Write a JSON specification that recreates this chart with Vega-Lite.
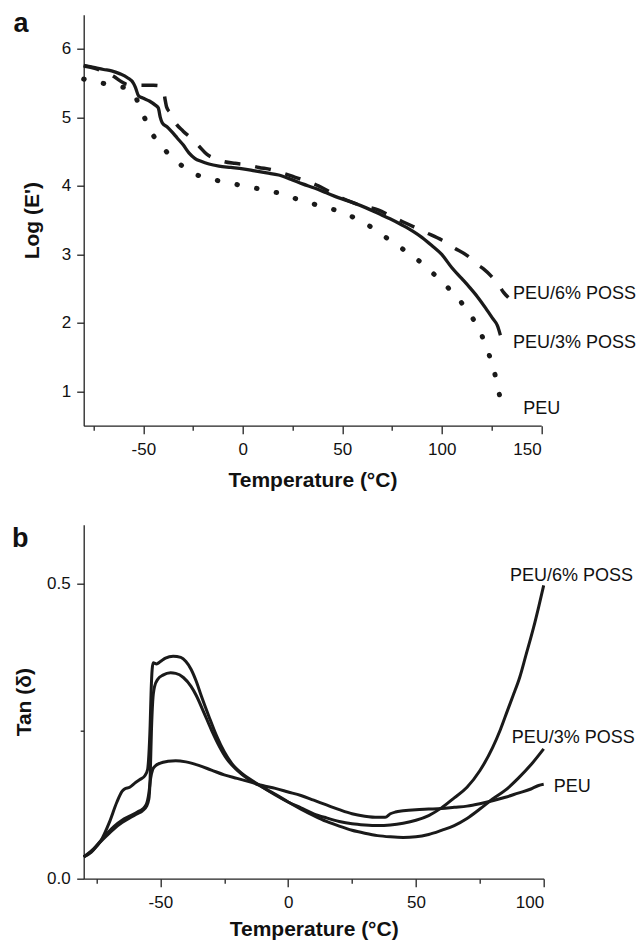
{
  "$schema": "https://vega.github.io/schema/vega-lite/v6.json",
  "background": "white",
  "autosize": {"type": "pad"},
  "padding": {"left": 11.7, "top": 9.7, "right": 0, "bottom": 0},
  "config": {
    "view": {"stroke": null},
    "font": "Liberation Sans",
    "axis": {"labelFont": "Liberation Sans", "titleFont": "Liberation Sans", "grid": false, "domainColor": "#222", "tickColor": "#222", "domainWidth": 1.3, "tickWidth": 1.3, "labelFontSize": 17, "titleFontSize": 21, "titleFontWeight": "bold", "labelColor": "#111", "titleColor": "#111"}
  },
  "datasets": {
    "a": [
      {"s":"3","t":-80,"v":5.76},{"s":"3","t":-75,"v":5.73},{"s":"3","t":-70,"v":5.70},{"s":"3","t":-66,"v":5.68},{"s":"3","t":-62,"v":5.64},{"s":"3","t":-58,"v":5.58},{"s":"3","t":-55,"v":5.50},{"s":"3","t":-54,"v":5.44},{"s":"3","t":-52.5,"v":5.32},{"s":"3","t":-50,"v":5.28},{"s":"3","t":-47,"v":5.24},{"s":"3","t":-44,"v":5.18},{"s":"3","t":-42.5,"v":5.14},{"s":"3","t":-41.5,"v":5.0},{"s":"3","t":-40.5,"v":4.92},{"s":"3","t":-38,"v":4.86},{"s":"3","t":-36,"v":4.80},{"s":"3","t":-33,"v":4.70},{"s":"3","t":-30,"v":4.60},{"s":"3","t":-27,"v":4.48},{"s":"3","t":-24,"v":4.40},{"s":"3","t":-21,"v":4.36},{"s":"3","t":-17,"v":4.32},{"s":"3","t":-12,"v":4.29},{"s":"3","t":-6,"v":4.27},{"s":"3","t":0,"v":4.25},{"s":"3","t":6,"v":4.22},{"s":"3","t":12,"v":4.19},{"s":"3","t":18,"v":4.16},{"s":"3","t":24,"v":4.10},{"s":"3","t":30,"v":4.03},{"s":"3","t":36,"v":3.97},{"s":"3","t":42,"v":3.90},{"s":"3","t":48,"v":3.83},{"s":"3","t":55,"v":3.76},{"s":"3","t":62,"v":3.68},{"s":"3","t":68,"v":3.60},{"s":"3","t":74,"v":3.52},{"s":"3","t":80,"v":3.43},{"s":"3","t":86,"v":3.33},{"s":"3","t":90,"v":3.25},{"s":"3","t":95,"v":3.13},{"s":"3","t":100,"v":3.0},{"s":"3","t":105,"v":2.81},{"s":"3","t":110,"v":2.65},{"s":"3","t":114,"v":2.52},{"s":"3","t":118,"v":2.38},{"s":"3","t":122,"v":2.22},{"s":"3","t":125.5,"v":2.07},{"s":"3","t":128,"v":1.96},{"s":"3","t":129.5,"v":1.82},
      {"s":"6","t":-80,"v":5.75},{"s":"6","t":-75,"v":5.72},{"s":"6","t":-70,"v":5.67},{"s":"6","t":-65,"v":5.60},{"s":"6","t":-61,"v":5.52},{"s":"6","t":-58,"v":5.48},{"s":"6","t":-50,"v":5.47},{"s":"6","t":-45,"v":5.47},{"s":"6","t":-41,"v":5.46},{"s":"6","t":-40,"v":5.42},{"s":"6","t":-39,"v":5.25},{"s":"6","t":-38.3,"v":5.15},{"s":"6","t":-36,"v":5.05},{"s":"6","t":-34,"v":4.93},{"s":"6","t":-30,"v":4.80},{"s":"6","t":-26,"v":4.70},{"s":"6","t":-22,"v":4.58},{"s":"6","t":-18,"v":4.46},{"s":"6","t":-14,"v":4.40},{"s":"6","t":-10,"v":4.36},{"s":"6","t":-4,"v":4.33},{"s":"6","t":2,"v":4.31},{"s":"6","t":8,"v":4.27},{"s":"6","t":14,"v":4.24},{"s":"6","t":20,"v":4.19},{"s":"6","t":26,"v":4.13},{"s":"6","t":32,"v":4.07},{"s":"6","t":38,"v":4.00},{"s":"6","t":44,"v":3.91},{"s":"6","t":50,"v":3.82},{"s":"6","t":56,"v":3.75},{"s":"6","t":62,"v":3.70},{"s":"6","t":68,"v":3.65},{"s":"6","t":75,"v":3.55},{"s":"6","t":84,"v":3.43},{"s":"6","t":92,"v":3.32},{"s":"6","t":100,"v":3.21},{"s":"6","t":106,"v":3.10},{"s":"6","t":113,"v":2.98},{"s":"6","t":118,"v":2.85},{"s":"6","t":121,"v":2.79},{"s":"6","t":125,"v":2.68},{"s":"6","t":129,"v":2.54},{"s":"6","t":131,"v":2.45},{"s":"6","t":133.5,"v":2.37},
      {"s":"0","t":-80,"v":5.56},{"s":"0","t":-77.3,"v":5.54},{"s":"0","t":-72,"v":5.51},{"s":"0","t":-67.6,"v":5.48},{"s":"0","t":-62,"v":5.45},{"s":"0","t":-57.5,"v":5.42},{"s":"0","t":-55,"v":5.35},{"s":"0","t":-53,"v":5.24},{"s":"0","t":-51.7,"v":5.14},{"s":"0","t":-49,"v":4.97},{"s":"0","t":-46.3,"v":4.80},{"s":"0","t":-42,"v":4.62},{"s":"0","t":-37.4,"v":4.47},{"s":"0","t":-32,"v":4.33},{"s":"0","t":-27.9,"v":4.23},{"s":"0","t":-23,"v":4.16},{"s":"0","t":-18.2,"v":4.12},{"s":"0","t":-13,"v":4.08},{"s":"0","t":-8.3,"v":4.05},{"s":"0","t":-3,"v":4.02},{"s":"0","t":1.4,"v":4.00},{"s":"0","t":6,"v":3.97},{"s":"0","t":11.1,"v":3.94},{"s":"0","t":16,"v":3.91},{"s":"0","t":20.7,"v":3.88},{"s":"0","t":25,"v":3.83},{"s":"0","t":30.4,"v":3.78},{"s":"0","t":35,"v":3.74},{"s":"0","t":40,"v":3.70},{"s":"0","t":45,"v":3.66},{"s":"0","t":50,"v":3.62},{"s":"0","t":55,"v":3.55},{"s":"0","t":59.7,"v":3.48},{"s":"0","t":65,"v":3.39},{"s":"0","t":69.2,"v":3.30},{"s":"0","t":74,"v":3.21},{"s":"0","t":78.9,"v":3.11},{"s":"0","t":84,"v":3.00},{"s":"0","t":89.3,"v":2.89},{"s":"0","t":94,"v":2.77},{"s":"0","t":99,"v":2.63},{"s":"0","t":104,"v":2.49},{"s":"0","t":108.5,"v":2.35},{"s":"0","t":112.5,"v":2.19},{"s":"0","t":116.6,"v":2.02},{"s":"0","t":119.5,"v":1.86},{"s":"0","t":121.9,"v":1.69},{"s":"0","t":124,"v":1.52},{"s":"0","t":125.8,"v":1.36},{"s":"0","t":127.3,"v":1.18},{"s":"0","t":128.5,"v":1.01},{"s":"0","t":129.7,"v":0.88},{"s":"0","t":130.6,"v":0.78}
    ],
    "alab": [
      {"t":135.8,"v":2.42,"label":"PEU/6% POSS"},
      {"t":135.8,"v":1.70,"label":"PEU/3% POSS"},
      {"t":141,"v":0.75,"label":"PEU"}
    ],
    "aletter": [{"t":-80,"v":6.5,"label":"a"}],
    "b": [
      {"s":"6","t":-80,"v":0.037},{"s":"6","t":-77,"v":0.047},{"s":"6","t":-73.3,"v":0.064},{"s":"6","t":-70,"v":0.095},{"s":"6","t":-67,"v":0.13},{"s":"6","t":-65,"v":0.148},{"s":"6","t":-64,"v":0.152},{"s":"6","t":-62,"v":0.155},{"s":"6","t":-60,"v":0.162},{"s":"6","t":-58,"v":0.168},{"s":"6","t":-56,"v":0.175},{"s":"6","t":-55,"v":0.185},{"s":"6","t":-54.5,"v":0.21},{"s":"6","t":-54,"v":0.26},{"s":"6","t":-53.6,"v":0.32},{"s":"6","t":-53.2,"v":0.355},{"s":"6","t":-52.8,"v":0.366},{"s":"6","t":-51.5,"v":0.364},{"s":"6","t":-50,"v":0.368},{"s":"6","t":-48,"v":0.374},{"s":"6","t":-45,"v":0.377},{"s":"6","t":-42,"v":0.375},{"s":"6","t":-40,"v":0.368},{"s":"6","t":-38,"v":0.355},{"s":"6","t":-36,"v":0.335},{"s":"6","t":-34,"v":0.31},{"s":"6","t":-31,"v":0.275},{"s":"6","t":-28,"v":0.242},{"s":"6","t":-25,"v":0.215},{"s":"6","t":-22,"v":0.195},{"s":"6","t":-18,"v":0.178},{"s":"6","t":-14,"v":0.166},{"s":"6","t":-10,"v":0.155},{"s":"6","t":-5,"v":0.142},{"s":"6","t":0,"v":0.130},{"s":"6","t":5,"v":0.120},{"s":"6","t":10,"v":0.110},{"s":"6","t":15,"v":0.103},{"s":"6","t":20,"v":0.097},{"s":"6","t":25,"v":0.093},{"s":"6","t":30,"v":0.091},{"s":"6","t":35,"v":0.090},{"s":"6","t":40,"v":0.091},{"s":"6","t":45,"v":0.094},{"s":"6","t":50,"v":0.099},{"s":"6","t":55,"v":0.107},{"s":"6","t":60,"v":0.120},{"s":"6","t":65,"v":0.137},{"s":"6","t":70,"v":0.155},{"s":"6","t":75,"v":0.183},{"s":"6","t":80,"v":0.222},{"s":"6","t":83,"v":0.252},{"s":"6","t":86,"v":0.287},{"s":"6","t":88,"v":0.31},{"s":"6","t":90.6,"v":0.341},{"s":"6","t":93,"v":0.378},{"s":"6","t":96,"v":0.425},{"s":"6","t":98,"v":0.46},{"s":"6","t":100,"v":0.497},
      {"s":"3","t":-80,"v":0.037},{"s":"3","t":-77,"v":0.045},{"s":"3","t":-74,"v":0.060},{"s":"3","t":-71,"v":0.073},{"s":"3","t":-68,"v":0.085},{"s":"3","t":-65,"v":0.095},{"s":"3","t":-62,"v":0.103},{"s":"3","t":-59,"v":0.110},{"s":"3","t":-57,"v":0.115},{"s":"3","t":-55.5,"v":0.122},{"s":"3","t":-54.5,"v":0.135},{"s":"3","t":-54,"v":0.17},{"s":"3","t":-53.5,"v":0.25},{"s":"3","t":-53,"v":0.30},{"s":"3","t":-52.3,"v":0.325},{"s":"3","t":-51,"v":0.338},{"s":"3","t":-49,"v":0.345},{"s":"3","t":-46,"v":0.349},{"s":"3","t":-44,"v":0.348},{"s":"3","t":-41,"v":0.341},{"s":"3","t":-38,"v":0.326},{"s":"3","t":-36,"v":0.311},{"s":"3","t":-33,"v":0.282},{"s":"3","t":-30,"v":0.252},{"s":"3","t":-27,"v":0.225},{"s":"3","t":-24,"v":0.203},{"s":"3","t":-20,"v":0.184},{"s":"3","t":-15,"v":0.167},{"s":"3","t":-10,"v":0.155},{"s":"3","t":-5,"v":0.143},{"s":"3","t":0,"v":0.130},{"s":"3","t":5,"v":0.118},{"s":"3","t":10,"v":0.107},{"s":"3","t":15,"v":0.097},{"s":"3","t":20,"v":0.089},{"s":"3","t":25,"v":0.082},{"s":"3","t":30,"v":0.077},{"s":"3","t":35,"v":0.073},{"s":"3","t":40,"v":0.071},{"s":"3","t":45,"v":0.070},{"s":"3","t":50,"v":0.071},{"s":"3","t":55,"v":0.075},{"s":"3","t":60,"v":0.082},{"s":"3","t":65,"v":0.090},{"s":"3","t":70,"v":0.102},{"s":"3","t":75,"v":0.118},{"s":"3","t":80,"v":0.135},{"s":"3","t":85,"v":0.150},{"s":"3","t":90,"v":0.170},{"s":"3","t":95,"v":0.193},{"s":"3","t":100,"v":0.22},
      {"s":"0","t":-80,"v":0.037},{"s":"0","t":-77,"v":0.046},{"s":"0","t":-74,"v":0.061},{"s":"0","t":-71,"v":0.076},{"s":"0","t":-68,"v":0.089},{"s":"0","t":-65,"v":0.099},{"s":"0","t":-62,"v":0.106},{"s":"0","t":-59,"v":0.113},{"s":"0","t":-57,"v":0.118},{"s":"0","t":-55.5,"v":0.126},{"s":"0","t":-54.5,"v":0.145},{"s":"0","t":-53.8,"v":0.17},{"s":"0","t":-53,"v":0.185},{"s":"0","t":-52,"v":0.191},{"s":"0","t":-50,"v":0.196},{"s":"0","t":-47,"v":0.199},{"s":"0","t":-44,"v":0.200},{"s":"0","t":-40,"v":0.198},{"s":"0","t":-35,"v":0.192},{"s":"0","t":-30,"v":0.184},{"s":"0","t":-25,"v":0.176},{"s":"0","t":-20,"v":0.170},{"s":"0","t":-15,"v":0.164},{"s":"0","t":-10,"v":0.158},{"s":"0","t":-5,"v":0.153},{"s":"0","t":0,"v":0.147},{"s":"0","t":5,"v":0.141},{"s":"0","t":10,"v":0.133},{"s":"0","t":15,"v":0.125},{"s":"0","t":20,"v":0.117},{"s":"0","t":25,"v":0.110},{"s":"0","t":30,"v":0.106},{"s":"0","t":35,"v":0.104},{"s":"0","t":38,"v":0.104},{"s":"0","t":40,"v":0.110},{"s":"0","t":42,"v":0.113},{"s":"0","t":45,"v":0.115},{"s":"0","t":50,"v":0.117},{"s":"0","t":55,"v":0.118},{"s":"0","t":60,"v":0.119},{"s":"0","t":65,"v":0.121},{"s":"0","t":70,"v":0.123},{"s":"0","t":75,"v":0.127},{"s":"0","t":80,"v":0.132},{"s":"0","t":85,"v":0.138},{"s":"0","t":90,"v":0.145},{"s":"0","t":95,"v":0.152},{"s":"0","t":98,"v":0.158},{"s":"0","t":100,"v":0.16}
    ],
    "blab": [
      {"t":86.8,"v":0.513,"label":"PEU/6% POSS"},
      {"t":87.5,"v":0.239,"label":"PEU/3% POSS"},
      {"t":103.9,"v":0.155,"label":"PEU"}
    ],
    "bletter": [{"t":-80,"v":0.6,"label":"b"}]
  },
  "bounds": "flush",
  "spacing": 99,
  "vconcat": [
    {
      "width": 457.5,
      "height": 411,
      "layer": [
        {
          "data": {"name": "a"},
          "transform": [{"filter": "datum.s === '0'"}],
          "mark": {"type": "line", "interpolate": "monotone", "color": "#1a1a1a", "strokeWidth": 5, "strokeDash": [0.5, 19.5], "strokeCap": "round"},
          "encoding": {
            "x": {"field": "t", "type": "quantitative", "scale": {"domain": [-80, 150], "nice": false, "zero": false},
              "axis": {"title": "Temperature (°C)", "values": [-75, -50, -25, 0, 25, 50, 75, 100, 125, 150], "labelExpr": "datum.value % 50 === 0 ? '' + datum.value : ''", "tickSize": {"condition": {"test": "datum.value % 50 === 0", "value": 8}, "value": 4.5}, "labelPadding": 8, "titlePadding": 12}},
            "y": {"field": "v", "type": "quantitative", "scale": {"domain": [0.5, 6.5], "nice": false, "zero": false},
              "axis": {"title": "Log (E')", "values": [1, 1.5, 2, 2.5, 3, 3.5, 4, 4.5, 5, 5.5, 6, 6.5], "labelExpr": "datum.value % 1 === 0 ? '' + datum.value : ''", "tickSize": {"condition": {"test": "datum.value % 1 === 0", "value": 7}, "value": 3.5}, "labelPadding": 6, "titlePadding": 18.5}}
          }
        },
        {
          "data": {"name": "a"},
          "transform": [{"filter": "datum.s === '6'"}],
          "mark": {"type": "line", "interpolate": "monotone", "color": "#1a1a1a", "strokeWidth": 3.5, "strokeDash": [16, 15]},
          "encoding": {"x": {"field": "t", "type": "quantitative"}, "y": {"field": "v", "type": "quantitative"}}
        },
        {
          "data": {"name": "a"},
          "transform": [{"filter": "datum.s === '3'"}],
          "mark": {"type": "line", "interpolate": "monotone", "color": "#1a1a1a", "strokeWidth": 3.3},
          "encoding": {"x": {"field": "t", "type": "quantitative"}, "y": {"field": "v", "type": "quantitative"}}
        },
        {
          "data": {"name": "alab"},
          "mark": {"type": "text", "align": "left", "baseline": "middle", "fontSize": 18, "font": "Liberation Sans", "color": "#111"},
          "encoding": {"x": {"field": "t", "type": "quantitative"}, "y": {"field": "v", "type": "quantitative"}, "text": {"field": "label"}}
        },
        {
          "data": {"name": "aletter"},
          "mark": {"type": "text", "align": "left", "baseline": "alphabetic", "dx": -70.3, "dy": 17.7, "fontSize": 27, "fontWeight": "bold", "font": "Liberation Sans", "color": "#111"},
          "encoding": {"x": {"field": "t", "type": "quantitative"}, "y": {"field": "v", "type": "quantitative"}, "text": {"field": "label"}}
        }
      ]
    },
    {
      "width": 460,
      "height": 354,
      "layer": [
        {
          "data": {"name": "b"},
          "mark": {"type": "line", "interpolate": "monotone", "color": "#1a1a1a", "strokeWidth": 3},
          "encoding": {
            "x": {"field": "t", "type": "quantitative", "scale": {"domain": [-80, 100], "nice": false, "zero": false},
              "axis": {"title": "Temperature (°C)", "values": [-75, -50, -25, 0, 25, 50, 75, 100], "labelExpr": "datum.value % 50 === 0 ? '' + datum.value : ''", "tickSize": {"condition": {"test": "datum.value % 50 === 0", "value": 8}, "value": 4.5}, "labelPadding": 8, "titlePadding": 8}},
            "y": {"field": "v", "type": "quantitative", "scale": {"domain": [0, 0.6], "nice": false, "zero": false},
              "axis": {"title": "Tan (δ)", "values": [0, 0.25, 0.5], "labelExpr": "datum.value === 0.25 ? '' : format(datum.value, '.1f')", "tickSize": {"condition": {"test": "datum.value === 0.25", "value": 3.5}, "value": 7}, "labelPadding": 6.5, "titlePadding": 12.4}},
            "detail": {"field": "s"}
          }
        },
        {
          "data": {"name": "blab"},
          "mark": {"type": "text", "align": "left", "baseline": "middle", "fontSize": 18, "font": "Liberation Sans", "color": "#111"},
          "encoding": {"x": {"field": "t", "type": "quantitative"}, "y": {"field": "v", "type": "quantitative"}, "text": {"field": "label"}}
        },
        {
          "data": {"name": "bletter"},
          "mark": {"type": "text", "align": "left", "baseline": "alphabetic", "dx": -71.6, "dy": 22, "fontSize": 27, "fontWeight": "bold", "font": "Liberation Sans", "color": "#111"},
          "encoding": {"x": {"field": "t", "type": "quantitative"}, "y": {"field": "v", "type": "quantitative"}, "text": {"field": "label"}}
        }
      ]
    }
  ]
}
